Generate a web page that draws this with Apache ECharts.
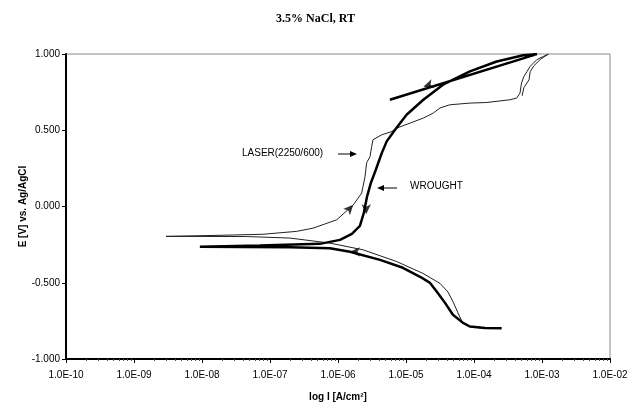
<!DOCTYPE html>
<html>
<head>
<meta charset="utf-8">
<script src="https://cdn.jsdelivr.net/npm/echarts@6/dist/echarts.min.js"></script>
<style>
  html, body { margin: 0; padding: 0; background: #fff; }
  #chart { width: 631px; height: 404px; }
</style>
</head>
<body>
<div id="chart"></div>
<script>
// current density [A/cm2] and potential [V]
const wroughtI = [2.55e-4, 1.45e-4, 8.7e-5, 6.9e-5, 4.9e-5, 3.75e-5, 2.86e-5, 2.26e-5, 1.61e-5, 9.0e-6,
  4.15e-6, 1.5e-6, 7.6e-7, 1.97e-7, 9.3e-9, 7.1e-8, 5.4e-7, 1.07e-6, 1.6e-6, 2.1e-6,
  2.4e-6, 2.67e-6, 3.05e-6, 3.6e-6, 4.4e-6, 5.2e-6, 6.9e-6, 1.02e-5, 1.8e-5, 3.5e-5,
  8.7e-5, 2.16e-4, 5.3e-4, 8.4e-4, 5.8e-6];
const wroughtE = [-0.798, -0.796, -0.787, -0.763, -0.710, -0.632, -0.560, -0.501, -0.461, -0.402,
  -0.350, -0.297, -0.274, -0.268, -0.264, -0.255, -0.245, -0.219, -0.179, -0.127,
  -0.041, 0.064, 0.156, 0.241, 0.350, 0.427, 0.503, 0.602, 0.700, 0.799,
  0.886, 0.951, 0.992, 0.999, 0.700];

const laserI = [2.25e-4, 1.22e-4, 8.2e-5, 6.7e-5, 5.8e-5, 4.9e-5, 4.15e-5, 3.16e-5, 1.78e-5, 7.3e-6,
  2.33e-6, 7.6e-7, 1.97e-7, 4.5e-8, 2.96e-9, 1.84e-8, 7.9e-8, 2.47e-7, 4.3e-7, 9.6e-7,
  1.68e-6, 2.23e-6, 2.5e-6, 2.64e-6, 2.96e-6, 3.13e-6, 3.27e-6, 4.4e-6, 6.2e-6, 7.3e-6,
  1.15e-5, 1.8e-5, 2.52e-5, 3.16e-5, 4.4e-5, 8.7e-5, 1.54e-4, 3.38e-4, 4.25e-4, 4.75e-4,
  5.0e-4, 5.4e-4, 6.0e-4, 6.7e-4, 8.4e-4, 1.05e-3, 1.24e-3, 9.7e-4, 7.6e-4, 6.7e-4,
  6.45e-4, 5.4e-4, 5.1e-4];
const laserE = [-0.799, -0.796, -0.786, -0.757, -0.697, -0.623, -0.561, -0.504, -0.439, -0.361,
  -0.284, -0.240, -0.207, -0.197, -0.196, -0.189, -0.182, -0.163, -0.142, -0.087,
  0.011, 0.088, 0.197, 0.287, 0.328, 0.394, 0.438, 0.470, 0.492, 0.514,
  0.547, 0.580, 0.613, 0.646, 0.667, 0.678, 0.682, 0.700, 0.711, 0.744,
  0.810, 0.851, 0.884, 0.919, 0.963, 0.984, 0.999, 0.969, 0.923, 0.884,
  0.831, 0.779, 0.726];

// scan direction arrows: [I, E, rotation]
const arrowI = [1.5e-6, 2.6e-6, 1.8e-5, 1.68e-6];
const arrowE = [-0.297, -0.05, 0.785, 0.011];
const arrowRot = [90, 180, 108, -43];

const yTicks = [-1, -0.5, 0, 0.5, 1];

const pairs = (xs, ys) => xs.map((x, i) => [x, ys[i]]);

const chart = echarts.init(document.getElementById('chart'));

const option = {
  animation: false,
  backgroundColor: '#fff',
  title: {
    text: '3.5% NaCl, RT',
    left: 'center',
    top: 8,
    textStyle: { fontFamily: 'Liberation Serif', fontSize: 12, fontWeight: 'bold', color: '#000' }
  },
  grid: {
    left: 66, right: 21, top: 54, bottom: 45,
    outerBoundsMode: 'none', containLabel: false,
    show: true, borderColor: '#888', borderWidth: 1
  },
  xAxis: {
    type: 'log',
    logBase: 10,
    min: 1e-10,
    max: 1e-2,
    splitNumber: 8,
    name: 'log I [A/cm²]',
    nameLocation: 'middle',
    nameGap: 33,
    nameMoveOverlap: false,
    nameTextStyle: { fontFamily: 'Liberation Sans', fontSize: 10, fontWeight: 'bold', color: '#000' },
    axisLine: { onZero: false, lineStyle: { color: '#000', width: 2 } },
    axisTick: { length: 4, lineStyle: { color: '#000' } },
    minorTick: { show: true, splitNumber: 9, length: 2, lineStyle: { color: '#555' } },
    splitLine: { show: false },
    axisLabel: {
      fontFamily: 'Liberation Sans', fontSize: 10, color: '#000', margin: 11,
      formatter: v => {
        const e = Math.round(Math.log10(v));
        return '1.0E' + (e < 0 ? '-' : '+') + String(Math.abs(e)).padStart(2, '0');
      }
    }
  },
  yAxis: {
    type: 'value',
    min: -1,
    max: 1,
    interval: 0.5,
    name: 'E [V] vs. Ag/AgCl',
    nameLocation: 'middle',
    nameGap: 38,
    nameMoveOverlap: false,
    nameTextStyle: { fontFamily: 'Liberation Sans', fontSize: 10, fontWeight: 'bold', color: '#000' },
    axisLine: { show: true, onZero: false, lineStyle: { color: '#000', width: 2 } },
    axisTick: { show: true, length: 4, lineStyle: { color: '#000' } },
    splitLine: { show: false },
    axisLabel: {
      fontFamily: 'Liberation Sans', fontSize: 10, color: '#000', margin: 6,
      formatter: v => yTicks.includes(v) ? v.toFixed(3) : ''
    }
  },
  series: [
    {
      name: 'LASER(2250/600)',
      type: 'line',
      data: pairs(laserI, laserE),
      showSymbol: false,
      lineStyle: { color: '#222', width: 1 }
    },
    {
      name: 'WROUGHT',
      type: 'line',
      data: pairs(wroughtI, wroughtE),
      showSymbol: false,
      lineStyle: { color: '#000', width: 2.5 }
    },
    {
      name: 'arrows',
      type: 'scatter',
      data: arrowI.map((x, i) => ({ value: [x, arrowE[i]], symbolRotate: arrowRot[i] })),
      symbol: 'arrow',
      symbolSize: [7, 10],
      itemStyle: { color: '#000' }
    }
  ],
  graphic: [
    { type: 'text', left: 242, top: 148, style: { text: 'LASER(2250/600)', font: '10px "Liberation Sans"', fill: '#000' } },
    { type: 'line', shape: { x1: 338, y1: 154, x2: 352, y2: 154 }, style: { stroke: '#000', lineWidth: 1 } },
    { type: 'polygon', shape: { points: [[357, 154], [350, 151], [350, 157]] }, style: { fill: '#000' } },
    { type: 'text', left: 410, top: 181, style: { text: 'WROUGHT', font: '10px "Liberation Sans"', fill: '#000' } },
    { type: 'line', shape: { x1: 397, y1: 188, x2: 383, y2: 188 }, style: { stroke: '#000', lineWidth: 1 } },
    { type: 'polygon', shape: { points: [[377, 188], [384, 185], [384, 191]] }, style: { fill: '#000' } }
  ]
};

chart.setOption(option);
</script>
</body>
</html>
